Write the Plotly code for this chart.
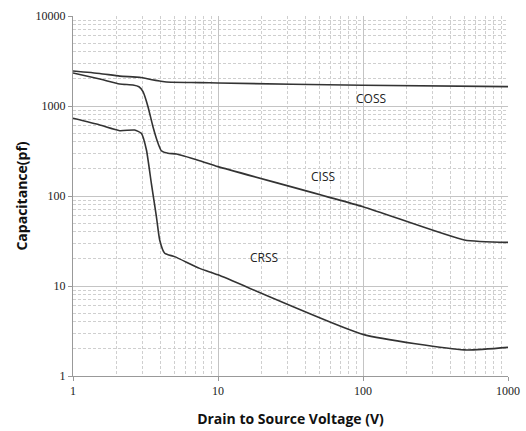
import math
import plotly.graph_objects as go

coss_x = [1, 1.53, 2.1, 2.88, 3.5, 3.96, 4.41, 7.47, 10, 100, 1000]
coss_y = [2450, 2300, 2150, 2084, 1960, 1896, 1848, 1820, 1800, 1700, 1640]

ciss_x = [1, 1.53, 2.1, 2.59, 2.85, 3.04, 3.29, 3.56, 3.86, 4.07, 4.52, 5.17, 7.47, 10, 100, 500, 1000]
ciss_y = [2330, 1995, 1755, 1711, 1637, 1443, 983, 589, 385, 318, 298, 293, 247, 212, 76, 32.5, 30.5]

crss_x = [1, 1.53, 2.1, 2.66, 2.96, 3.21, 3.47, 3.76, 3.96, 4.29, 5.02, 7.47, 10, 100, 500, 1000]
crss_y = [730, 615, 532, 541, 497, 324, 138, 58.9, 32.5, 23.1, 21.2, 15.7, 13.3, 2.9, 1.95, 2.08]

labels = ["COSS", "CISS", "CRSS"]
label_x = [113, 52.7, 20.9]
label_y = [1200, 166, 20.5]

tick_vals_x = [1, 10, 100, 1000]
tick_vals_y = [1, 10, 100, 1000, 10000]

fig = go.Figure()
for xs, ys in [(coss_x, coss_y), (ciss_x, ciss_y), (crss_x, crss_y)]:
    fig.add_trace(go.Scatter(x=xs, y=ys, mode="lines",
                             line=dict(color="#333333", width=1.6, shape="spline", smoothing=0.5),
                             showlegend=False, hoverinfo="skip"))

# annotations on log axes take log10 positions
for t, lx, ly in zip(labels, label_x, label_y):
    fig.add_annotation(x=math.log10(lx), y=math.log10(ly), xref="x", yref="y", text=t,
                       showarrow=False,
                       font=dict(family="Open Sans, Liberation Sans", size=12, color="#222"))

axis_common = dict(
    type="log", showgrid=True, gridcolor="#c4c4c4", gridwidth=1,
    showline=True, linecolor="#999999", linewidth=1,
    ticks="outside", ticklen=4, tickcolor="#999999",
    tickfont=dict(family="Liberation Serif", size=12, color="#222"),
    zeroline=False, automargin=False,
    minor=dict(showgrid=True, gridcolor="#cfcfcf", griddash="3px,2px", gridwidth=1, dtick="D1",
               ticks=""),
)

fig.update_xaxes(range=[0, 3], tickmode="array", tickvals=tick_vals_x,
                 ticktext=[str(v) for v in tick_vals_x], **axis_common,
                 title=dict(text="<b>Drain to Source Voltage (V)</b>", standoff=16,
                            font=dict(family="Open Sans, Liberation Sans", size=14, color="#111")))
fig.update_yaxes(range=[0, 4], tickmode="array", tickvals=tick_vals_y,
                 ticktext=[str(v) for v in tick_vals_y], **axis_common,
                 title=dict(text="<b>Capacitance(pf)</b>", standoff=4,
                            font=dict(family="Open Sans, Liberation Sans", size=14, color="#111")))

fig.update_layout(width=526, height=431, margin=dict(l=73, r=18, t=16, b=55),
                  plot_bgcolor="white", paper_bgcolor="white")

fig.write_html("out.html", config={"displayModeBar": False},
               post_script="document.body.style.margin='0';")
